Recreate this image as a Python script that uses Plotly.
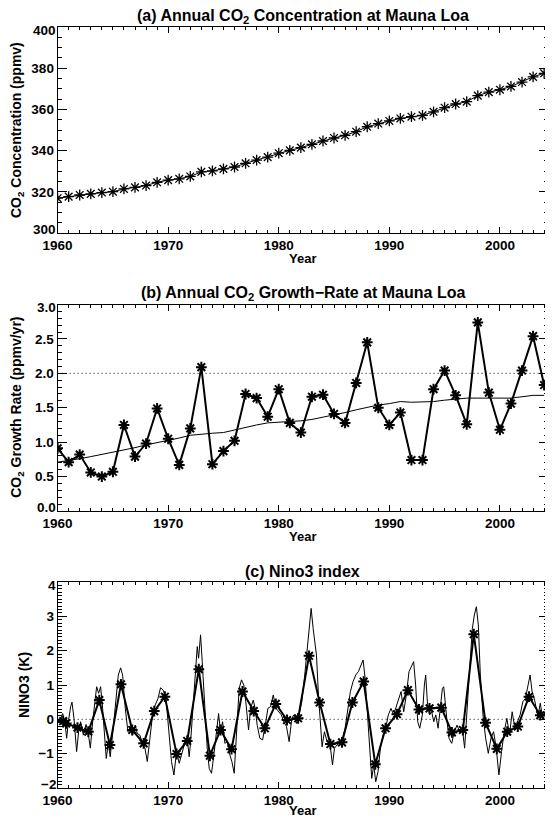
import plotly.graph_objects as go

# ---------------- data ----------------
years = list(range(1960, 2005))
co2_conc = [316.91, 317.64, 318.45, 318.99, 319.62, 320.04, 321.38, 322.16, 323.04, 324.62,
            325.68, 326.32, 327.45, 329.68, 330.18, 331.11, 332.04, 333.83, 335.40, 336.84,
            338.75, 340.11, 341.45, 343.05, 344.65, 346.12, 347.42, 349.19, 351.57, 353.12,
            354.39, 355.61, 356.45, 357.10, 358.83, 360.82, 362.61, 363.73, 366.70, 368.38,
            369.55, 371.14, 373.28, 375.80, 377.52]

growth_rate = [0.91, 0.71, 0.82, 0.56, 0.50, 0.57, 1.25, 0.79, 0.98, 1.49,
               1.05, 0.67, 1.20, 2.09, 0.68, 0.87, 1.02, 1.70, 1.64, 1.37,
               1.77, 1.28, 1.14, 1.66, 1.69, 1.41, 1.28, 1.86, 2.45, 1.50,
               1.25, 1.43, 0.74, 0.74, 1.77, 2.04, 1.68, 1.26, 2.74, 1.72,
               1.18, 1.56, 2.04, 2.54, 1.83]

growth_trend = [0.71, 0.73, 0.76, 0.79, 0.82, 0.85, 0.89, 0.92, 0.96, 0.99,
                1.03, 1.06, 1.10, 1.12, 1.13, 1.14, 1.18, 1.22, 1.25, 1.28,
                1.29, 1.29, 1.31, 1.33, 1.36, 1.40, 1.43, 1.47, 1.51, 1.54,
                1.56, 1.59, 1.58, 1.58, 1.59, 1.61, 1.63, 1.64, 1.64, 1.64,
                1.63, 1.64, 1.66, 1.68, 1.68]

# Nino3 annual means (asterisks)
nino_ann_t = [1960.50, 1960.78, 1961.80, 1962.78, 1963.77, 1964.73, 1965.73, 1966.75, 1967.78, 1968.74,
              1969.70, 1970.76, 1971.72, 1972.77, 1973.77, 1974.73, 1975.73, 1976.72, 1977.74, 1978.74,
              1979.73, 1980.75, 1981.75, 1982.74, 1983.70, 1984.67, 1985.72, 1986.66, 1987.68, 1988.73,
              1989.66, 1990.69, 1991.68, 1992.68, 1993.64, 1994.70, 1995.66, 1996.65, 1997.64, 1998.70,
              1999.72, 2000.66, 2001.62, 2002.63, 2003.65, 2004.60]
nino_ann_v = [-0.05, -0.12, -0.24, -0.36, 0.56, -0.75, 1.02, -0.31, -0.70, 0.24,
              0.66, -1.01, -0.63, 1.46, -1.06, -0.31, -0.87, 0.81, 0.24, -0.26,
              0.45, -0.02, 0.03, 1.85, 0.49, -0.72, -0.67, 0.49, 1.10, -1.31,
              -0.26, 0.15, 0.85, 0.29, 0.32, 0.34, -0.38, -0.31, 2.48, -0.10,
              -0.86, -0.36, -0.21, 0.66, 0.12, 0.19]

# Nino3 sub-annual index (thin line), vertices
nino_mon_t = [1960.00, 1960.20, 1960.46, 1960.67, 1960.82, 1960.97, 1961.18, 1961.30, 1961.48, 1961.72,
              1961.90, 1962.08, 1962.33, 1962.57, 1962.75, 1962.96, 1963.17, 1963.38, 1963.53, 1963.71,
              1963.89, 1964.07, 1964.25, 1964.40, 1964.58, 1964.76, 1965.03, 1965.28, 1965.49, 1965.70,
              1965.88, 1966.12, 1966.36, 1966.60, 1966.78, 1967.02, 1967.20, 1967.44, 1967.68, 1967.90,
              1968.11, 1968.35, 1968.59, 1968.83, 1969.08, 1969.31, 1969.55, 1969.80, 1970.04, 1970.30,
              1970.52, 1970.76, 1971.00, 1971.24, 1971.49, 1971.72, 1971.90, 1972.03, 1972.27, 1972.51,
              1972.63, 1972.75, 1972.93, 1973.08, 1973.29, 1973.53, 1973.71, 1973.92, 1974.13, 1974.38,
              1974.56, 1974.73, 1974.92, 1975.13, 1975.34, 1975.58, 1975.76, 1975.97, 1976.18, 1976.42,
              1976.63, 1976.84, 1977.02, 1977.27, 1977.45, 1977.69, 1977.87, 1978.05, 1978.29, 1978.54,
              1978.78, 1979.02, 1979.26, 1979.50, 1979.75, 1979.99, 1980.23, 1980.46, 1980.70, 1980.94,
              1981.18, 1981.36, 1981.60, 1981.84, 1982.08, 1982.35, 1982.57, 1982.75, 1982.93, 1983.11,
              1983.29, 1983.41, 1983.59, 1983.77, 1983.92, 1984.13, 1984.37, 1984.61, 1984.86, 1985.04,
              1985.28, 1985.52, 1985.76, 1986.00, 1986.24, 1986.48, 1986.72, 1986.96, 1987.20, 1987.45,
              1987.63, 1987.81, 1987.99, 1988.23, 1988.41, 1988.59, 1988.77, 1988.98, 1989.19, 1989.43,
              1989.67, 1989.91, 1990.15, 1990.39, 1990.57, 1990.82, 1991.06, 1991.30, 1991.54, 1991.78,
              1992.02, 1992.20, 1992.38, 1992.57, 1992.75, 1992.99, 1993.17, 1993.29, 1993.44, 1993.65,
              1993.83, 1994.02, 1994.20, 1994.41, 1994.61, 1994.80, 1994.92, 1995.04, 1995.22, 1995.40,
              1995.64, 1995.88, 1996.12, 1996.36, 1996.60, 1996.81, 1997.02, 1997.27, 1997.51, 1997.69,
              1997.87, 1998.05, 1998.23, 1998.47, 1998.71, 1998.95, 1999.19, 1999.43, 1999.67, 1999.91,
              2000.15, 2000.39, 2000.63, 2000.87, 2001.11, 2001.35, 2001.59, 2001.83, 2002.07, 2002.31,
              2002.55, 2002.73, 2002.91, 2003.14, 2003.44, 2003.65, 2003.90, 2004.20, 2004.50]
nino_mon_v = [0.03, -0.07, 0.17, -0.12, -0.55, -0.07, 0.37, 0.50, 0.03, -0.94,
              -0.36, -0.07, -0.46, -0.15, -0.36, -0.84, -0.07, 0.47, 0.95, 0.76,
              0.95, 0.32, -0.46, -1.14, -0.70, -1.09, -0.26, 0.51, 1.29, 1.50,
              1.29, 0.32, -0.36, -0.21, -0.46, -0.17, -0.41, -0.46, -0.70, -0.84,
              -1.23, -0.55, 0.13, 0.42, 0.61, 0.92, 0.85, 0.61, -0.36, -1.23,
              -1.62, -0.94, -1.28, -0.99, -0.70, -0.55, -1.09, -0.65, 0.51, 1.68,
              2.12, 1.78, 2.46, 1.68, 0.32, -0.84, -1.43, -1.57, -1.04, -0.26,
              0.17, -0.36, -0.07, -0.70, -0.65, -1.04, -1.23, -1.57, -0.36, 0.90,
              1.15, 1.00, 0.51, -0.31, 0.32, 0.56, 0.32, -0.17, -0.55, -0.60,
              -0.17, 0.32, 0.37, 0.71, 0.32, 0.22, 0.13, -0.07, -0.21, -0.65,
              0.03, 0.13, -0.12, 0.13, 0.51, 1.29, 2.07, 2.65, 3.23, 2.65,
              2.26, 1.87, 0.71, -0.26, -0.80, -0.36, -0.65, -0.65, -1.33, -0.84,
              -0.75, -0.65, -0.55, -0.26, 0.22, 0.81, 1.10, 1.29, 1.39, 1.58,
              1.73, 1.19, 0.32, -0.65, -1.72, -1.33, -1.82, -1.52, -0.84, -0.46,
              -0.26, 0.13, 0.32, 0.13, 0.32, 0.51, 0.81, 0.22, 0.71, 1.39,
              1.53, 1.68, 1.00, -0.07, -0.26, 0.13, 1.00, 1.29, 0.51, 0.13,
              0.22, -0.07, 0.13, -0.26, 0.32, 0.90, 0.95, 0.51, -0.07, -0.55,
              -0.70, -0.36, -0.17, -0.36, -0.26, -0.84, 0.32, 1.49, 2.65, 3.04,
              3.28, 2.75, 1.29, 0.13, -0.55, -0.99, -0.55, -0.36, -0.84, -1.62,
              -0.94, -0.36, 0.03, -0.46, 0.22, -0.26, -0.07, 0.13, 0.51, 0.61,
              1.00, 1.29, 0.81, 0.56, 0.08, 0.47, -0.02, 0.37, 0.22]

x_ticks = [1960, 1970, 1980, 1990, 2000]
y_ticks = [[300, 320, 340, 360, 380, 400],
           [0.0, 0.5, 1.0, 1.5, 2.0, 2.5, 3.0],
           [-2, -1, 0, 1, 2, 3, 4]]
y_ticktext = [["300", "320", "340", "360", "380", "400"],
              ["0.0", "0.5", "1.0", "1.5", "2.0", "2.5", "3.0"],
              ["\u22122", "\u22121", "0", "1", "2", "3", "4"]]
titles = ["(a) Annual CO<sub>2</sub> Concentration at Mauna Loa",
          "(b) Annual CO<sub>2</sub> Growth\u2212Rate at Mauna Loa",
          "(c) Nino3 index"]
ytitles = ["CO<sub>2</sub> Concentration (ppmv)",
           "CO<sub>2</sub> Growth Rate (ppmv/yr)",
           "NINO3 (K)"]

# ---------------- figure ----------------
# the page body has an 8 px margin, so the figure is laid out 8 px up/left
OFF = 8
W, H = 553 - OFF, 819 - OFF
FONT = "Liberation Sans, Arial, Helvetica, sans-serif"
x0, x1 = 57.6 - OFF, 548.0 - OFF
boxes = [(27 - OFF, 233 - OFF), (304.5 - OFF, 511 - OFF), (582 - OFF, 788 - OFF)]
ytitle_x = [17 - OFF, 17 - OFF, 24 - OFF]
year_gap = [25.5, 25.5, 22.5]
xdom = [x0 / W, x1 / W]
ydoms = [[1 - b / H, 1 - t / H] for t, b in boxes]
XR = [1960, 2004.35]

fig = go.Figure()
star = dict(symbol="asterisk-open", color="black")

# (a)
fig.add_trace(go.Scatter(x=years, y=co2_conc, mode="lines+markers",
                         line=dict(color="black", width=1),
                         marker=dict(size=9, line=dict(width=1.3, color="black"), **star),
                         xaxis="x", yaxis="y", showlegend=False))
# (b)
fig.add_trace(go.Scatter(x=years, y=growth_trend, mode="lines",
                         line=dict(color="black", width=1),
                         xaxis="x2", yaxis="y2", showlegend=False))
fig.add_trace(go.Scatter(x=years, y=growth_rate, mode="lines+markers",
                         line=dict(color="black", width=2),
                         marker=dict(size=9, line=dict(width=2, color="black"), **star),
                         xaxis="x2", yaxis="y2", showlegend=False))
# (c)
fig.add_trace(go.Scatter(x=nino_mon_t, y=nino_mon_v, mode="lines",
                         line=dict(color="black", width=1),
                         xaxis="x3", yaxis="y3", showlegend=False))
fig.add_trace(go.Scatter(x=nino_ann_t, y=nino_ann_v, mode="lines+markers",
                         line=dict(color="black", width=2),
                         marker=dict(size=9, line=dict(width=2, color="black"), **star),
                         xaxis="x3", yaxis="y3", showlegend=False))

tickfont = dict(family=FONT, size=13.5, color="black", weight="bold")
yrange = [[300, 400], [0, 3], [-2, 4]]
yminor = [5, 0.1, 0.1]

layout = dict(width=W, height=H, margin=dict(l=0, r=0, t=0, b=0, pad=0),
              paper_bgcolor="white", plot_bgcolor="white", showlegend=False)

for i in range(3):
    sx = "" if i == 0 else str(i + 1)
    inner_text = [""] + y_ticktext[i][1:-1] + [""]
    layout["xaxis" + sx] = dict(
        domain=xdom, range=XR, anchor="y" + sx,
        tickmode="array", tickvals=x_ticks, ticktext=[str(v) for v in x_ticks],
        ticks="inside", ticklen=6, tickwidth=1, tickcolor="black",
        minor=dict(ticks="inside", dtick=1, tick0=1960, ticklen=3, tickcolor="black"),
        showline=True, linecolor="black", linewidth=1, mirror="allticks",
        showgrid=False, zeroline=False, tickfont=tickfont, automargin=False)
    layout["yaxis" + sx] = dict(
        domain=ydoms[i], range=yrange[i], anchor="x" + sx,
        tickmode="array", tickvals=y_ticks[i], ticktext=inner_text,
        ticks="inside", ticklen=9, tickwidth=1, tickcolor="black",
        minor=dict(ticks="inside", dtick=yminor[i], tick0=0, ticklen=4, tickcolor="black"),
        showline=True, linecolor="black", linewidth=1, mirror="allticks",
        showgrid=False, zeroline=False, tickfont=tickfont, automargin=False)

fig.update_layout(**layout)

for i, (t, b) in enumerate(boxes):
    sx = "" if i == 0 else str(i + 1)
    # edge tick labels, nudged inward as in the original
    for val, txt, shift in [(y_ticks[i][0], y_ticktext[i][0], 3.5),
                            (y_ticks[i][-1], y_ticktext[i][-1], -3.5)]:
        fig.add_annotation(text=txt, xref="paper", yref="y" + sx, x=xdom[0], y=val,
                           xanchor="right", yanchor="middle", xshift=-1, yshift=shift,
                           showarrow=False, font=tickfont, borderpad=0)
    # panel title
    fig.add_annotation(text=titles[i], xref="paper", yref="paper",
                       x=(xdom[0] + xdom[1]) / 2, y=1 - (t - 10.5) / H,
                       xanchor="center", yanchor="middle", showarrow=False,
                       font=dict(family=FONT, size=16, color="black", weight="bold"))
    # x title
    fig.add_annotation(text="Year", xref="paper", yref="paper",
                       x=(xdom[0] + xdom[1]) / 2, y=1 - (b + year_gap[i]) / H,
                       xanchor="center", yanchor="middle", showarrow=False, borderpad=0,
                       font=dict(family=FONT, size=13, color="black", weight="bold"))
    # y title
    fig.add_annotation(text=ytitles[i], xref="paper", yref="paper",
                       x=ytitle_x[i] / W, y=1 - (t + b) / 2 / H, textangle=-90,
                       xanchor="center", yanchor="middle", showarrow=False,
                       font=dict(family=FONT, size=14, color="black", weight="bold"))

# reference lines
fig.add_shape(type="line", xref="x2", yref="y2", x0=XR[0], x1=XR[1], y0=2.0, y1=2.0,
              line=dict(color="black", width=1, dash="1px,3px"))
fig.add_shape(type="line", xref="x3", yref="y3", x0=XR[0], x1=XR[1], y0=0, y1=0,
              line=dict(color="black", width=1, dash="1px,3px"))

fig.write_html("out.html")
